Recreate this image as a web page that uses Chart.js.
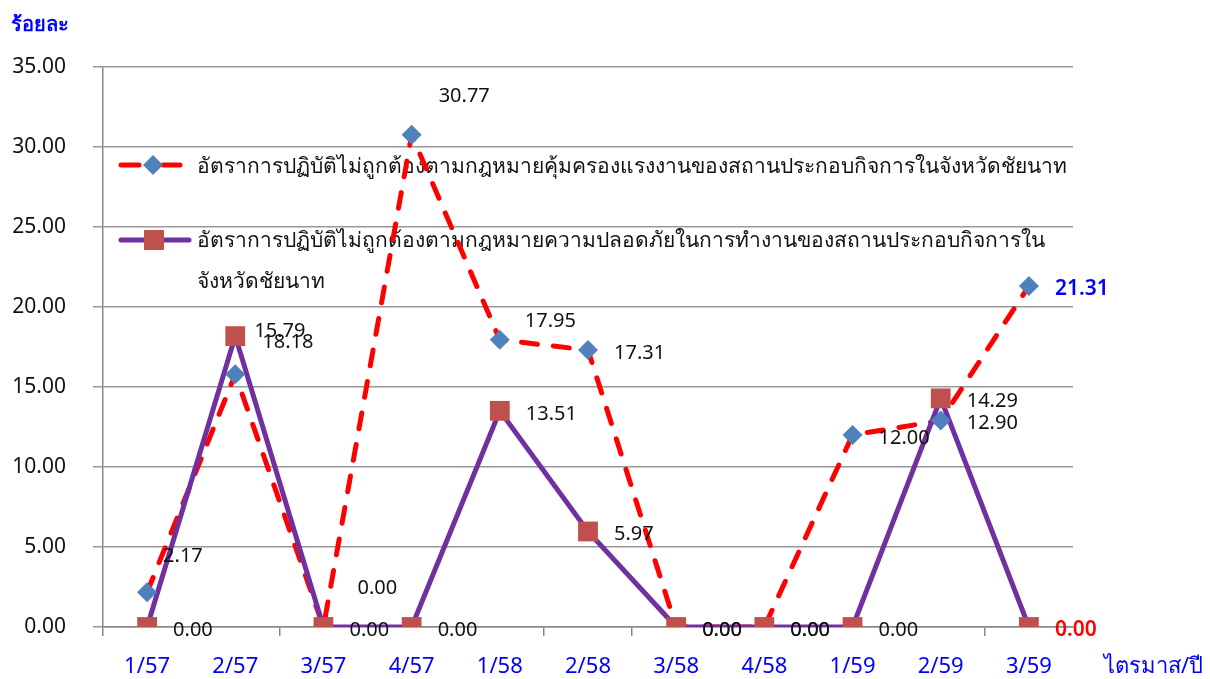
<!DOCTYPE html>
<html>
<head>
<meta charset="utf-8">
<script src="https://cdn.jsdelivr.net/npm/chart.js@4/dist/chart.umd.min.js"></script>
<style>
  html, body { margin: 0; padding: 0; background: #fff; }
  #wrap { width: 1210px; height: 679px; position: relative; }
</style>
</head>
<body>
<div id="wrap"><canvas id="chart"></canvas></div>
<script>
// data
const categories = ['1/57', '2/57', '3/57', '4/57', '1/58', '2/58', '3/58', '4/58', '1/59', '2/59', '3/59'];
const labourRate = [2.17, 15.79, 0.00, 30.77, 17.95, 17.31, 0.00, 0.00, 12.00, 12.90, 21.31];
const safetyRate = [0.00, 18.18, 0.00, 0.00, 13.51, 5.97, 0.00, 0.00, 0.00, 14.29, 0.00];
const yTicks = [0, 5, 10, 15, 20, 25, 30, 35];

const labourName = 'อัตราการปฏิบัติไม่ถูกต้องตามกฎหมายคุ้มครองแรงงานของสถานประกอบกิจการในจังหวัดชัยนาท';
const safetyName = ['อัตราการปฏิบัติไม่ถูกต้องตามกฎหมายความปลอดภัยในการทำงานของสถานประกอบกิจการใน', 'จังหวัดชัยนาท'];

// label nudges [dx, dy] where the reference moved a label off its default spot
const labourShift = { 0: [16, -36], 1: [19, -43], 2: [34, -39], 3: [27, -38], 4: [25, -19] };
const safetyShift = { 1: [27, 6] };

const FONT = "'Noto Sans', 'DejaVu Sans', sans-serif";
const BLUE = '#0000FF';
const RED_LINE = '#FF0000';
const PURPLE = '#7030A0';
const DIAMOND = '#4F81BD';
const SQUARE = '#C0504D';
const tickedBoundaries = [0, 2, 5, 6, 10];

const decorations = {
  id: 'decorations',
  beforeDatasetsDraw(chart) {
    const ctx = chart.ctx;
    ctx.save();
    // legend inside the plot area
    ctx.lineWidth = 5;
    ctx.lineCap = 'round';
    ctx.strokeStyle = RED_LINE;
    ctx.beginPath(); ctx.moveTo(121, 165); ctx.lineTo(139, 165); ctx.stroke();
    ctx.beginPath(); ctx.moveTo(163, 165); ctx.lineTo(180, 165); ctx.stroke();
    ctx.fillStyle = DIAMOND;
    ctx.beginPath();
    ctx.moveTo(153, 155); ctx.lineTo(163, 165); ctx.lineTo(153, 175); ctx.lineTo(143, 165);
    ctx.closePath(); ctx.fill();

    ctx.strokeStyle = PURPLE;
    ctx.beginPath(); ctx.moveTo(121, 240); ctx.lineTo(189, 240); ctx.stroke();
    ctx.fillStyle = SQUARE;
    ctx.fillRect(144, 230, 20, 20);

    ctx.fillStyle = '#111';
    ctx.font = '21px ' + FONT;
    ctx.textBaseline = 'middle';
    ctx.textAlign = 'left';
    ctx.fillText(labourName, 197, 167);
    ctx.fillText(safetyName[0], 197, 241);
    ctx.fillText(safetyName[1], 197, 282);
    ctx.restore();
  },
  afterDatasetsDraw(chart) {
    const ctx = chart.ctx;
    ctx.save();
    ctx.textBaseline = 'middle';
    ctx.textAlign = 'left';
    const drawLabels = (dsIndex, values, shifts, lastColor) => {
      const meta = chart.getDatasetMeta(dsIndex);
      meta.data.forEach((pt, i) => {
        const s = shifts[i] || [26, 3];
        const last = i === values.length - 1;
        ctx.fillStyle = last ? lastColor : '#111';
        ctx.font = (last ? '600 21px ' : '20px ') + FONT;
        ctx.fillText(values[i].toFixed(2), pt.x + s[0], pt.y + s[1]);
      });
    };
    drawLabels(2, labourRate, labourShift, BLUE);
    drawLabels(3, safetyRate, safetyShift, '#FF0000');

    // axis titles
    ctx.fillStyle = BLUE;
    ctx.font = 'bold 20px ' + FONT;
    ctx.fillText('ร้อยละ', 11, 25);
    ctx.font = '22px ' + FONT;
    ctx.fillText('ไตรมาส/ปี', 1104, 667);
    ctx.restore();
  }
};

new Chart(document.getElementById('chart').getContext('2d'), {
  type: 'line',
  data: {
    labels: categories,
    datasets: [
      {
        label: labourName,
        data: labourRate,
        borderColor: RED_LINE,
        borderWidth: 5,
        borderDash: [16, 16],
        borderCapStyle: 'round',
        pointRadius: 0,
        tension: 0,
        order: 4
      },
      {
        label: safetyName.join(''),
        data: safetyRate,
        borderColor: PURPLE,
        borderWidth: 5,
        pointRadius: 0,
        tension: 0,
        order: 3
      },
      {
        label: labourName,
        data: labourRate,
        showLine: false,
        pointStyle: 'rectRot',
        pointRadius: 10,
        pointBackgroundColor: DIAMOND,
        pointBorderColor: DIAMOND,
        pointBorderWidth: 0,
        order: 2
      },
      {
        label: safetyName.join(''),
        data: safetyRate,
        showLine: false,
        pointStyle: 'rect',
        pointRadius: 14,
        pointBackgroundColor: SQUARE,
        pointBorderColor: SQUARE,
        pointBorderWidth: 0,
        order: 1
      }
    ]
  },
  options: {
    responsive: true,
    maintainAspectRatio: false,
    animation: false,
    layout: {
      padding: { top: 67, right: 137, left: 0, bottom: 0 }
    },
    plugins: {
      legend: { display: false },
      tooltip: { enabled: false }
    },
    scales: {
      x: {
        offset: true,
        grid: {
          offset: true,
          drawOnChartArea: false,
          tickLength: 9,
          lineWidth: 1.5,
          color: (c) => tickedBoundaries.includes(c.index) ? '#888' : 'rgba(0,0,0,0)'
        },
        border: { color: '#888', width: 1.5 },
        ticks: {
          color: BLUE,
          font: { family: FONT, size: 22 },
          padding: 18,
          maxRotation: 0,
          autoSkip: false
        },
        afterFit(scale) { scale.height = 52; }
      },
      y: {
        min: 0,
        max: 35,
        afterBuildTicks(scale) { scale.ticks = yTicks.map(v => ({ value: v })); },
        grid: { color: '#999', lineWidth: 1.5, tickLength: 10 },
        border: { color: '#888', width: 1.5 },
        ticks: {
          color: '#111',
          font: { family: FONT, size: 21 },
          padding: 27,
          callback: (v) => Number(v).toFixed(2)
        },
        afterFit(scale) { scale.width = 103; }
      }
    }
  },
  plugins: [decorations]
});
</script>
</body>
</html>
